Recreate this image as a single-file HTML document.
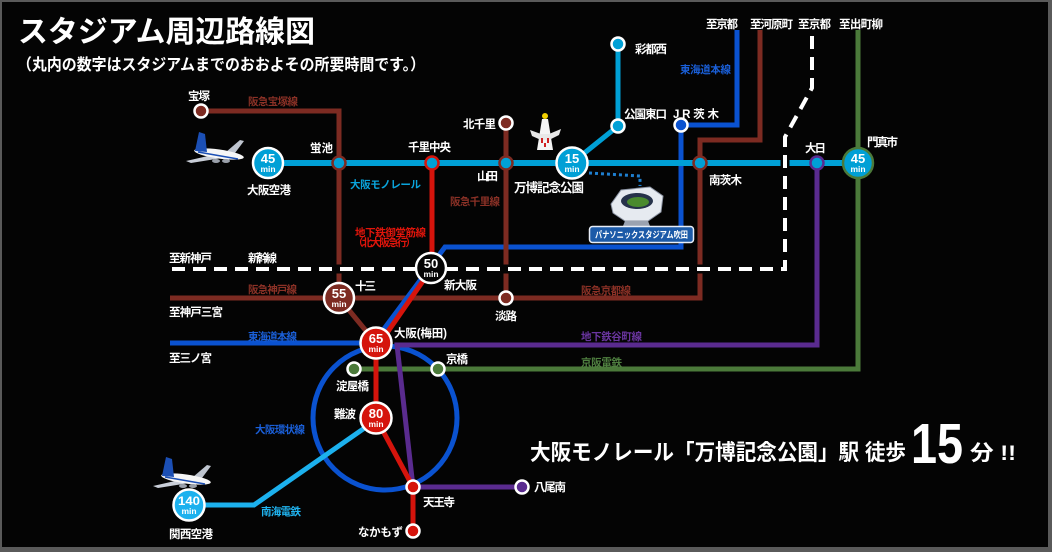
<!DOCTYPE html>
<html><head><meta charset="utf-8"><style>
html,body{margin:0;padding:0;background:#000;}
svg{display:block;}
text{font-family:"Liberation Sans","Noto Sans CJK JP",sans-serif;font-weight:bold;}
</style></head><body>
<svg width="1052" height="552" viewBox="0 0 1052 552" xmlns="http://www.w3.org/2000/svg">
<rect x="0" y="0" width="1052" height="552" fill="#5a5a5a"/>
<rect x="2" y="2" width="1046" height="545" fill="#040404"/>

<!-- Title -->
<text x="18" y="42" font-size="30" fill="#fff" textLength="297" lengthAdjust="spacingAndGlyphs">スタジアム周辺路線図</text>
<text x="17" y="70" font-size="16" fill="#fff" textLength="408" lengthAdjust="spacingAndGlyphs">（丸内の数字はスタジアムまでのおおよその所要時間です。）</text>

<g fill="none" stroke-linejoin="miter" stroke-linecap="butt">
<circle cx="385" cy="418" r="72" stroke="#0a52d0" stroke-width="5"/>
<polyline points="354,369 858,369 858,30" stroke="#4b7a3a" stroke-width="5"/>
<polyline points="817,163 817,345 397,345 413,487 522,487" stroke="#5a2b8f" stroke-width="5"/>
<polyline points="201,111 339,111 339,298 376,343" stroke="#7d2b22" stroke-width="5"/>
<polyline points="170,298 700,298 700,140 760,140 760,30" stroke="#7d2b22" stroke-width="5"/>
<polyline points="170,343 376,343" stroke="#0a52d0" stroke-width="5"/>
<polyline points="372,345 445,247 681,247 681,125 737,125 737,30" stroke="#0a52d0" stroke-width="5"/>
<polyline points="506,123 506,298" stroke="#7d2b22" stroke-width="5"/>
<polyline points="432,163 432,268 380,343" stroke="#d5140c" stroke-width="5"/>
<polyline points="376,343 376,418 413,487 413,531" stroke="#d5140c" stroke-width="5"/>
<polyline points="189,505 254,505 366,427" stroke="#1cb1ee" stroke-width="5"/>
<polyline points="268,163 858,163" stroke="#00a0d6" stroke-width="6"/>
<polyline points="572,163 618,126 618,44" stroke="#00a0d6" stroke-width="5"/>
<polyline points="172,269 785,269 785,137 812,88 812,30" stroke="#040404" stroke-width="9"/>
<polyline points="172,269 785,269 785,137 812,88 812,30" stroke="#fff" stroke-width="4" stroke-dasharray="13 8"/>
<polyline points="589,173 640,176 640,186" stroke="#1e7fd0" stroke-width="3" stroke-dasharray="3 3"/>
</g>

<g stroke="#fff" stroke-width="2.5">
<circle cx="201" cy="111" r="6.5" fill="#7d2b22"/>
<circle cx="506" cy="123" r="6.5" fill="#7d2b22"/>
<circle cx="506" cy="298" r="6.5" fill="#7d2b22"/>
<circle cx="618" cy="44" r="6.5" fill="#00a0d6"/>
<circle cx="618" cy="126" r="6.5" fill="#00a0d6"/>
<circle cx="681" cy="125" r="6.5" fill="#0a52d0"/>
<circle cx="354" cy="369" r="6.5" fill="#4b7a3a"/>
<circle cx="438" cy="369" r="6.5" fill="#4b7a3a"/>
<circle cx="413" cy="487" r="6.5" fill="#d5140c"/>
<circle cx="413" cy="531" r="6.5" fill="#d5140c"/>
<circle cx="522" cy="487" r="6.5" fill="#5a2b8f"/>
</g>
<g fill="#00a0d6" stroke-width="2.5">
<circle cx="339" cy="163" r="6.5" stroke="#7d2b22"/>
<circle cx="432" cy="163" r="6.5" stroke="#d5140c"/>
<circle cx="506" cy="163" r="6.5" stroke="#7d2b22"/>
<circle cx="700" cy="163" r="6.5" stroke="#7d2b22"/>
<circle cx="817" cy="163" r="6.5" stroke="#5a2b8f"/>
</g>

<g stroke-width="2.5">
<circle cx="268" cy="163" r="15" fill="#00a0d6" stroke="#fff"/>
<circle cx="572" cy="163" r="15.5" fill="#00a0d6" stroke="#fff"/>
<circle cx="858" cy="163" r="15" fill="#00a0d6" stroke="#4b7a3a"/>
<circle cx="431" cy="268" r="15" fill="#040404" stroke="#fff"/>
<circle cx="339" cy="298" r="15" fill="#7d2b22" stroke="#fff"/>
<circle cx="376" cy="343" r="15.5" fill="#d5140c" stroke="#fff"/>
<circle cx="376" cy="418" r="15.5" fill="#d5140c" stroke="#fff"/>
<circle cx="189" cy="505" r="15.5" fill="#1cb1ee" stroke="#fff"/>
</g>
<g fill="#fff" text-anchor="middle">
<text x="268" y="163" font-size="13">45</text><text x="268" y="172" font-size="8.5">min</text>
<text x="572" y="163" font-size="13">15</text><text x="572" y="172" font-size="8.5">min</text>
<text x="858" y="163" font-size="13">45</text><text x="858" y="172" font-size="8.5">min</text>
<text x="431" y="268" font-size="13">50</text><text x="431" y="277" font-size="8.5">min</text>
<text x="339" y="298" font-size="13">55</text><text x="339" y="307" font-size="8.5">min</text>
<text x="376" y="343" font-size="13">65</text><text x="376" y="352" font-size="8.5">min</text>
<text x="376" y="418" font-size="13">80</text><text x="376" y="427" font-size="8.5">min</text>
<text x="189" y="505" font-size="12" textLength="22" lengthAdjust="spacingAndGlyphs">140</text><text x="189" y="514" font-size="8.5">min</text>
</g>

<g fill="#fff" font-size="11.5" lengthAdjust="spacingAndGlyphs">
<text x="188" y="100" textLength="22">宝塚</text>
<text x="310" y="152" textLength="23">蛍池</text>
<text x="247" y="194" textLength="44">大阪空港</text>
<text x="408" y="151" textLength="43">千里中央</text>
<text x="463" y="128" textLength="33">北千里</text>
<text x="477" y="180" textLength="21">山田</text>
<text x="514" y="192" textLength="70" font-size="12.5">万博記念公園</text>
<text x="635" y="53" textLength="32">彩都西</text>
<text x="624" y="118" textLength="43">公園東口</text>
<text x="673" y="118" textLength="46">JR茨木</text>
<text x="706" y="28" textLength="32">至京都</text>
<text x="750" y="28" textLength="43">至河原町</text>
<text x="798" y="28" textLength="33">至京都</text>
<text x="839" y="28" textLength="44">至出町柳</text>
<text x="709" y="184" textLength="33">南茨木</text>
<text x="805" y="152" textLength="21">大日</text>
<text x="867" y="146" textLength="31">門真市</text>
<text x="355" y="290" textLength="21">十三</text>
<text x="444" y="289" textLength="33">新大阪</text>
<text x="495" y="320" textLength="22">淡路</text>
<text x="394" y="337" textLength="53">大阪(梅田)</text>
<text x="446" y="363" textLength="22">京橋</text>
<text x="169" y="262" textLength="43">至新神戸</text>
<text x="248" y="262" textLength="29">新幹線</text>
<text x="169" y="316" textLength="54">至神戸三宮</text>
<text x="169" y="362" textLength="43">至三ノ宮</text>
<text x="336" y="390" textLength="33">淀屋橋</text>
<text x="334" y="418" textLength="22">難波</text>
<text x="423" y="506" textLength="32">天王寺</text>
<text x="534" y="491" textLength="32">八尾南</text>
<text x="169" y="538" textLength="44">関西空港</text>
<text x="358" y="536" textLength="45">なかもず</text>
</g>
<g font-size="10.5" lengthAdjust="spacingAndGlyphs">
<text x="248" y="105" textLength="50" fill="#8b3126">阪急宝塚線</text>
<text x="350" y="188" textLength="71" fill="#0aa4dc">大阪モノレール</text>
<text x="450" y="205" textLength="50" fill="#8b3126">阪急千里線</text>
<text x="680" y="73" textLength="51" fill="#1a5fd8">東海道本線</text>
<text x="355" y="236" textLength="71" fill="#e0150b">地下鉄御堂筋線</text>
<text x="353" y="246" textLength="63" fill="#e0150b">（北大阪急行）</text>
<text x="581" y="294" textLength="50" fill="#8b3126">阪急京都線</text>
<text x="581" y="340" textLength="61" fill="#6a35a0">地下鉄谷町線</text>
<text x="581" y="366" textLength="41" fill="#4f8040">京阪電鉄</text>
<text x="248" y="293" textLength="49" fill="#8b3126">阪急神戸線</text>
<text x="248" y="340" textLength="49" fill="#1a5fd8">東海道本線</text>
<text x="255" y="433" textLength="50" fill="#1a5fd8">大阪環状線</text>
<text x="261" y="515" textLength="40" fill="#20b4f0">南海電鉄</text>
</g>

<g>
<circle cx="545" cy="116" r="3" fill="#f2d000"/>
<polygon points="542,119 548,119 553,150 537,150" fill="#f4f4f4"/>
<polygon points="530,130 541,134 549,134 561,129 559,135 549,140 541,140 532,136" fill="#e8e8e8"/>
<rect x="541" y="138" width="2" height="5" fill="#d02020"/>
<rect x="547" y="138" width="2" height="5" fill="#d02020"/>
<rect x="544" y="143" width="2" height="4" fill="#d02020"/>
</g>

<g>
<polygon points="611,204 621,190 650,187 663,196 661,212 648,221 625,221 613,213" fill="#e6eaf0" stroke="#8c94a4" stroke-width="1"/>
<ellipse cx="637" cy="201" rx="16" ry="8" fill="#26324a"/>
<ellipse cx="638" cy="202" rx="11" ry="5" fill="#4a8a2e"/>
<polygon points="625,221 648,221 650,226 623,226" fill="#9aa2b0"/>
<rect x="589.5" y="226.5" width="104" height="16" rx="3" fill="#1c5aa8" stroke="#e8eef8" stroke-width="1.5"/>
<text x="595" y="238" font-size="9" fill="#fff" textLength="93" lengthAdjust="spacingAndGlyphs">パナソニックスタジアム吹田</text>
</g>

<g transform="translate(186,132)">
<polygon points="22,24 0,29 5,31 36,26" fill="#c9ced8"/>
<polygon points="40,20 54,8 58,9 49,21" fill="#bfc5cf"/>
<ellipse cx="33" cy="22" rx="25" ry="4.5" fill="#f6f6f6" transform="rotate(8 33 22)"/>
<polygon points="9,19 13,0 19,2 21,20" fill="#1b4fb5"/>
<line x1="12" y1="20" x2="52" y2="27" stroke="#1b4fb5" stroke-width="1.5"/>
<ellipse cx="30" cy="29" rx="4" ry="2" fill="#9aa0aa"/>
<ellipse cx="40" cy="29" rx="4" ry="2" fill="#9aa0aa"/>
</g>
<g transform="translate(153,457)">
<polygon points="22,24 0,29 5,31 36,26" fill="#c9ced8"/>
<polygon points="40,20 54,8 58,9 49,21" fill="#bfc5cf"/>
<ellipse cx="33" cy="22" rx="25" ry="4.5" fill="#f6f6f6" transform="rotate(8 33 22)"/>
<polygon points="9,19 13,0 19,2 21,20" fill="#1b4fb5"/>
<line x1="12" y1="20" x2="52" y2="27" stroke="#1b4fb5" stroke-width="1.5"/>
<ellipse cx="30" cy="29" rx="4" ry="2" fill="#9aa0aa"/>
<ellipse cx="40" cy="29" rx="4" ry="2" fill="#9aa0aa"/>
</g>

<text x="530" y="460" font-size="22" fill="#fff" textLength="376" lengthAdjust="spacingAndGlyphs">大阪モノレール「万博記念公園」駅 徒歩</text>
<text x="911" y="463" font-size="57" fill="#fff" textLength="52" lengthAdjust="spacingAndGlyphs" font-family="'Noto Sans CJK JP','Liberation Sans',sans-serif">15</text>
<text x="970" y="460" font-size="21" fill="#fff" textLength="46" lengthAdjust="spacingAndGlyphs">分 !!</text>
</svg>
</body></html>
